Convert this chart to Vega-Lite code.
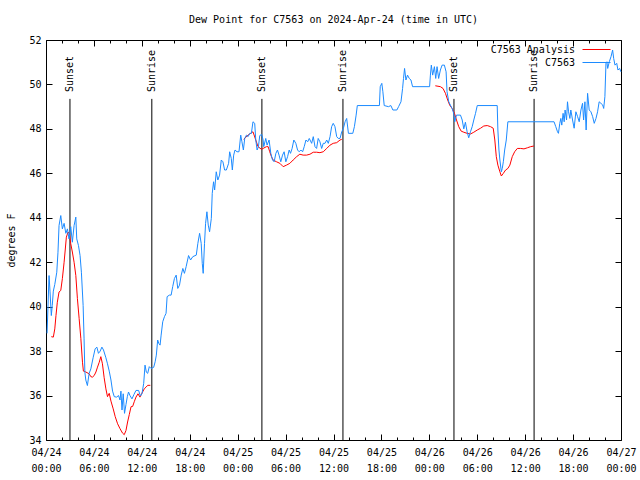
{
  "$schema": "https://vega.github.io/schema/vega-lite/v6.json",
  "width": 575,
  "height": 400,
  "autosize": {"type": "none"},
  "padding": {"left": 46, "top": 40, "right": 19, "bottom": 40},
  "background": "white",
  "title": {"text": "Dew Point for C7563 on 2024-Apr-24 (time in UTC)", "font": "DejaVu Sans Mono", "fontSize": 10, "fontWeight": "normal", "color": "black", "offset": 10, "anchor": "middle"},
  "config": {
    "font": "DejaVu Sans Mono",
    "view": {"stroke": "black", "strokeWidth": 1},
    "axis": {"domain": false, "grid": false, "tickColor": "black", "tickWidth": 1, "labelColor": "black", "labelFont": "DejaVu Sans Mono", "labelFontSize": 10, "titleFont": "DejaVu Sans Mono", "titleFontSize": 10, "titleFontWeight": "normal", "titleColor": "black"},
    "legend": {"labelFont": "DejaVu Sans Mono", "labelFontSize": 10, "labelColor": "black"}
  },
  "datasets": {
    "sun": [
      {"t": "2024-04-24T03:00:00Z", "label": "Sunset"},
      {"t": "2024-04-24T13:15:00Z", "label": "Sunrise"},
      {"t": "2024-04-25T03:02:00Z", "label": "Sunset"},
      {"t": "2024-04-25T13:11:00Z", "label": "Sunrise"},
      {"t": "2024-04-26T03:05:00Z", "label": "Sunset"},
      {"t": "2024-04-26T13:07:00Z", "label": "Sunrise"}
    ],
    "obs": [
      {"t": "2024-04-24T00:40:00Z", "v": 38.65, "s": "C7563 Analysis", "g": 1},
      {"t": "2024-04-24T00:55:00Z", "v": 38.63, "s": "C7563 Analysis", "g": 1},
      {"t": "2024-04-24T01:06:00Z", "v": 39.0, "s": "C7563 Analysis", "g": 1},
      {"t": "2024-04-24T01:15:00Z", "v": 39.6, "s": "C7563 Analysis", "g": 1},
      {"t": "2024-04-24T01:25:00Z", "v": 40.2, "s": "C7563 Analysis", "g": 1},
      {"t": "2024-04-24T01:38:00Z", "v": 40.66, "s": "C7563 Analysis", "g": 1},
      {"t": "2024-04-24T01:51:00Z", "v": 40.73, "s": "C7563 Analysis", "g": 1},
      {"t": "2024-04-24T02:03:00Z", "v": 41.26, "s": "C7563 Analysis", "g": 1},
      {"t": "2024-04-24T02:16:00Z", "v": 42.0, "s": "C7563 Analysis", "g": 1},
      {"t": "2024-04-24T02:23:00Z", "v": 42.46, "s": "C7563 Analysis", "g": 1},
      {"t": "2024-04-24T02:33:00Z", "v": 43.13, "s": "C7563 Analysis", "g": 1},
      {"t": "2024-04-24T02:46:00Z", "v": 43.36, "s": "C7563 Analysis", "g": 1},
      {"t": "2024-04-24T02:56:00Z", "v": 43.28, "s": "C7563 Analysis", "g": 1},
      {"t": "2024-04-24T03:06:00Z", "v": 42.83, "s": "C7563 Analysis", "g": 1},
      {"t": "2024-04-24T03:18:00Z", "v": 42.46, "s": "C7563 Analysis", "g": 1},
      {"t": "2024-04-24T03:31:00Z", "v": 42.0, "s": "C7563 Analysis", "g": 1},
      {"t": "2024-04-24T03:44:00Z", "v": 41.4, "s": "C7563 Analysis", "g": 1},
      {"t": "2024-04-24T03:56:00Z", "v": 40.36, "s": "C7563 Analysis", "g": 1},
      {"t": "2024-04-24T04:09:00Z", "v": 39.46, "s": "C7563 Analysis", "g": 1},
      {"t": "2024-04-24T04:22:00Z", "v": 38.56, "s": "C7563 Analysis", "g": 1},
      {"t": "2024-04-24T04:34:00Z", "v": 37.5, "s": "C7563 Analysis", "g": 1},
      {"t": "2024-04-24T04:41:00Z", "v": 37.1, "s": "C7563 Analysis", "g": 1},
      {"t": "2024-04-24T04:59:00Z", "v": 37.06, "s": "C7563 Analysis", "g": 1},
      {"t": "2024-04-24T05:24:00Z", "v": 36.98, "s": "C7563 Analysis", "g": 1},
      {"t": "2024-04-24T05:37:00Z", "v": 36.85, "s": "C7563 Analysis", "g": 1},
      {"t": "2024-04-24T05:49:00Z", "v": 36.83, "s": "C7563 Analysis", "g": 1},
      {"t": "2024-04-24T06:02:00Z", "v": 36.9, "s": "C7563 Analysis", "g": 1},
      {"t": "2024-04-24T06:15:00Z", "v": 37.06, "s": "C7563 Analysis", "g": 1},
      {"t": "2024-04-24T06:27:00Z", "v": 37.28, "s": "C7563 Analysis", "g": 1},
      {"t": "2024-04-24T06:40:00Z", "v": 37.5, "s": "C7563 Analysis", "g": 1},
      {"t": "2024-04-24T06:52:00Z", "v": 37.75, "s": "C7563 Analysis", "g": 1},
      {"t": "2024-04-24T07:04:00Z", "v": 37.43, "s": "C7563 Analysis", "g": 1},
      {"t": "2024-04-24T07:17:00Z", "v": 36.8, "s": "C7563 Analysis", "g": 1},
      {"t": "2024-04-24T07:30:00Z", "v": 36.3, "s": "C7563 Analysis", "g": 1},
      {"t": "2024-04-24T07:42:00Z", "v": 35.95, "s": "C7563 Analysis", "g": 1},
      {"t": "2024-04-24T07:55:00Z", "v": 36.1, "s": "C7563 Analysis", "g": 1},
      {"t": "2024-04-24T08:08:00Z", "v": 35.75, "s": "C7563 Analysis", "g": 1},
      {"t": "2024-04-24T08:25:00Z", "v": 35.4, "s": "C7563 Analysis", "g": 1},
      {"t": "2024-04-24T08:40:00Z", "v": 35.05, "s": "C7563 Analysis", "g": 1},
      {"t": "2024-04-24T08:58:00Z", "v": 34.73, "s": "C7563 Analysis", "g": 1},
      {"t": "2024-04-24T09:16:00Z", "v": 34.51, "s": "C7563 Analysis", "g": 1},
      {"t": "2024-04-24T09:35:00Z", "v": 34.31, "s": "C7563 Analysis", "g": 1},
      {"t": "2024-04-24T09:48:00Z", "v": 34.24, "s": "C7563 Analysis", "g": 1},
      {"t": "2024-04-24T10:01:00Z", "v": 34.43, "s": "C7563 Analysis", "g": 1},
      {"t": "2024-04-24T10:13:00Z", "v": 34.81, "s": "C7563 Analysis", "g": 1},
      {"t": "2024-04-24T10:26:00Z", "v": 35.15, "s": "C7563 Analysis", "g": 1},
      {"t": "2024-04-24T10:39:00Z", "v": 35.5, "s": "C7563 Analysis", "g": 1},
      {"t": "2024-04-24T10:51:00Z", "v": 35.51, "s": "C7563 Analysis", "g": 1},
      {"t": "2024-04-24T11:03:00Z", "v": 35.72, "s": "C7563 Analysis", "g": 1},
      {"t": "2024-04-24T11:16:00Z", "v": 35.93, "s": "C7563 Analysis", "g": 1},
      {"t": "2024-04-24T11:31:00Z", "v": 36.08, "s": "C7563 Analysis", "g": 1},
      {"t": "2024-04-24T11:46:00Z", "v": 35.93, "s": "C7563 Analysis", "g": 1},
      {"t": "2024-04-24T12:01:00Z", "v": 36.11, "s": "C7563 Analysis", "g": 1},
      {"t": "2024-04-24T12:19:00Z", "v": 36.31, "s": "C7563 Analysis", "g": 1},
      {"t": "2024-04-24T12:32:00Z", "v": 36.38, "s": "C7563 Analysis", "g": 1},
      {"t": "2024-04-24T12:44:00Z", "v": 36.46, "s": "C7563 Analysis", "g": 1},
      {"t": "2024-04-24T13:04:00Z", "v": 36.46, "s": "C7563 Analysis", "g": 1},
      {"t": "2024-04-25T00:45:00Z", "v": 47.53, "s": "C7563 Analysis", "g": 2},
      {"t": "2024-04-25T01:18:00Z", "v": 47.72, "s": "C7563 Analysis", "g": 2},
      {"t": "2024-04-25T01:55:00Z", "v": 47.87, "s": "C7563 Analysis", "g": 2},
      {"t": "2024-04-25T02:16:00Z", "v": 47.5, "s": "C7563 Analysis", "g": 2},
      {"t": "2024-04-25T02:33:00Z", "v": 47.2, "s": "C7563 Analysis", "g": 2},
      {"t": "2024-04-25T02:59:00Z", "v": 47.08, "s": "C7563 Analysis", "g": 2},
      {"t": "2024-04-25T03:11:00Z", "v": 47.12, "s": "C7563 Analysis", "g": 2},
      {"t": "2024-04-25T03:36:00Z", "v": 47.2, "s": "C7563 Analysis", "g": 2},
      {"t": "2024-04-25T03:49:00Z", "v": 47.2, "s": "C7563 Analysis", "g": 2},
      {"t": "2024-04-25T04:01:00Z", "v": 46.97, "s": "C7563 Analysis", "g": 2},
      {"t": "2024-04-25T04:14:00Z", "v": 46.75, "s": "C7563 Analysis", "g": 2},
      {"t": "2024-04-25T04:26:00Z", "v": 46.6, "s": "C7563 Analysis", "g": 2},
      {"t": "2024-04-25T04:52:00Z", "v": 46.52, "s": "C7563 Analysis", "g": 2},
      {"t": "2024-04-25T05:17:00Z", "v": 46.45, "s": "C7563 Analysis", "g": 2},
      {"t": "2024-04-25T05:42:00Z", "v": 46.3, "s": "C7563 Analysis", "g": 2},
      {"t": "2024-04-25T06:07:00Z", "v": 46.37, "s": "C7563 Analysis", "g": 2},
      {"t": "2024-04-25T06:32:00Z", "v": 46.45, "s": "C7563 Analysis", "g": 2},
      {"t": "2024-04-25T06:57:00Z", "v": 46.6, "s": "C7563 Analysis", "g": 2},
      {"t": "2024-04-25T07:23:00Z", "v": 46.75, "s": "C7563 Analysis", "g": 2},
      {"t": "2024-04-25T07:47:00Z", "v": 46.86, "s": "C7563 Analysis", "g": 2},
      {"t": "2024-04-25T08:12:00Z", "v": 46.82, "s": "C7563 Analysis", "g": 2},
      {"t": "2024-04-25T08:38:00Z", "v": 46.82, "s": "C7563 Analysis", "g": 2},
      {"t": "2024-04-25T09:03:00Z", "v": 46.86, "s": "C7563 Analysis", "g": 2},
      {"t": "2024-04-25T09:28:00Z", "v": 46.95, "s": "C7563 Analysis", "g": 2},
      {"t": "2024-04-25T09:53:00Z", "v": 46.95, "s": "C7563 Analysis", "g": 2},
      {"t": "2024-04-25T10:18:00Z", "v": 46.93, "s": "C7563 Analysis", "g": 2},
      {"t": "2024-04-25T10:43:00Z", "v": 46.97, "s": "C7563 Analysis", "g": 2},
      {"t": "2024-04-25T11:09:00Z", "v": 47.12, "s": "C7563 Analysis", "g": 2},
      {"t": "2024-04-25T11:34:00Z", "v": 47.27, "s": "C7563 Analysis", "g": 2},
      {"t": "2024-04-25T11:58:00Z", "v": 47.35, "s": "C7563 Analysis", "g": 2},
      {"t": "2024-04-25T12:24:00Z", "v": 47.38, "s": "C7563 Analysis", "g": 2},
      {"t": "2024-04-25T12:49:00Z", "v": 47.5, "s": "C7563 Analysis", "g": 2},
      {"t": "2024-04-25T13:02:00Z", "v": 47.53, "s": "C7563 Analysis", "g": 2},
      {"t": "2024-04-26T00:45:00Z", "v": 49.94, "s": "C7563 Analysis", "g": 3},
      {"t": "2024-04-26T01:23:00Z", "v": 49.9, "s": "C7563 Analysis", "g": 3},
      {"t": "2024-04-26T01:43:00Z", "v": 49.82, "s": "C7563 Analysis", "g": 3},
      {"t": "2024-04-26T02:01:00Z", "v": 49.6, "s": "C7563 Analysis", "g": 3},
      {"t": "2024-04-26T02:18:00Z", "v": 49.3, "s": "C7563 Analysis", "g": 3},
      {"t": "2024-04-26T02:33:00Z", "v": 49.07, "s": "C7563 Analysis", "g": 3},
      {"t": "2024-04-26T02:51:00Z", "v": 48.92, "s": "C7563 Analysis", "g": 3},
      {"t": "2024-04-26T03:09:00Z", "v": 48.7, "s": "C7563 Analysis", "g": 3},
      {"t": "2024-04-26T03:24:00Z", "v": 48.4, "s": "C7563 Analysis", "g": 3},
      {"t": "2024-04-26T03:41:00Z", "v": 48.1, "s": "C7563 Analysis", "g": 3},
      {"t": "2024-04-26T03:59:00Z", "v": 47.9, "s": "C7563 Analysis", "g": 3},
      {"t": "2024-04-26T04:19:00Z", "v": 47.85, "s": "C7563 Analysis", "g": 3},
      {"t": "2024-04-26T04:44:00Z", "v": 47.8, "s": "C7563 Analysis", "g": 3},
      {"t": "2024-04-26T05:09:00Z", "v": 47.77, "s": "C7563 Analysis", "g": 3},
      {"t": "2024-04-26T05:34:00Z", "v": 47.85, "s": "C7563 Analysis", "g": 3},
      {"t": "2024-04-26T06:00:00Z", "v": 47.95, "s": "C7563 Analysis", "g": 3},
      {"t": "2024-04-26T06:25:00Z", "v": 48.03, "s": "C7563 Analysis", "g": 3},
      {"t": "2024-04-26T06:49:00Z", "v": 48.13, "s": "C7563 Analysis", "g": 3},
      {"t": "2024-04-26T07:15:00Z", "v": 48.15, "s": "C7563 Analysis", "g": 3},
      {"t": "2024-04-26T07:40:00Z", "v": 48.1, "s": "C7563 Analysis", "g": 3},
      {"t": "2024-04-26T08:00:00Z", "v": 48.03, "s": "C7563 Analysis", "g": 3},
      {"t": "2024-04-26T08:12:00Z", "v": 47.5, "s": "C7563 Analysis", "g": 3},
      {"t": "2024-04-26T08:23:00Z", "v": 46.75, "s": "C7563 Analysis", "g": 3},
      {"t": "2024-04-26T08:35:00Z", "v": 46.37, "s": "C7563 Analysis", "g": 3},
      {"t": "2024-04-26T08:50:00Z", "v": 46.07, "s": "C7563 Analysis", "g": 3},
      {"t": "2024-04-26T09:01:00Z", "v": 45.88, "s": "C7563 Analysis", "g": 3},
      {"t": "2024-04-26T09:16:00Z", "v": 46.0, "s": "C7563 Analysis", "g": 3},
      {"t": "2024-04-26T09:33:00Z", "v": 46.15, "s": "C7563 Analysis", "g": 3},
      {"t": "2024-04-26T09:50:00Z", "v": 46.22, "s": "C7563 Analysis", "g": 3},
      {"t": "2024-04-26T10:05:00Z", "v": 46.37, "s": "C7563 Analysis", "g": 3},
      {"t": "2024-04-26T10:23:00Z", "v": 46.75, "s": "C7563 Analysis", "g": 3},
      {"t": "2024-04-26T10:41:00Z", "v": 46.97, "s": "C7563 Analysis", "g": 3},
      {"t": "2024-04-26T11:01:00Z", "v": 47.12, "s": "C7563 Analysis", "g": 3},
      {"t": "2024-04-26T11:26:00Z", "v": 47.12, "s": "C7563 Analysis", "g": 3},
      {"t": "2024-04-26T11:51:00Z", "v": 47.1, "s": "C7563 Analysis", "g": 3},
      {"t": "2024-04-26T12:17:00Z", "v": 47.15, "s": "C7563 Analysis", "g": 3},
      {"t": "2024-04-26T12:41:00Z", "v": 47.2, "s": "C7563 Analysis", "g": 3},
      {"t": "2024-04-26T13:06:00Z", "v": 47.23, "s": "C7563 Analysis", "g": 3},
      {"t": "2024-04-24T00:08:00Z", "v": 38.8, "s": "C7563", "g": 0},
      {"t": "2024-04-24T00:23:00Z", "v": 41.4, "s": "C7563", "g": 0},
      {"t": "2024-04-24T00:30:00Z", "v": 40.7, "s": "C7563", "g": 0},
      {"t": "2024-04-24T00:40:00Z", "v": 39.6, "s": "C7563", "g": 0},
      {"t": "2024-04-24T00:47:00Z", "v": 40.05, "s": "C7563", "g": 0},
      {"t": "2024-04-24T00:55:00Z", "v": 40.7, "s": "C7563", "g": 0},
      {"t": "2024-04-24T01:06:00Z", "v": 41.0, "s": "C7563", "g": 0},
      {"t": "2024-04-24T01:21:00Z", "v": 41.55, "s": "C7563", "g": 0},
      {"t": "2024-04-24T01:30:00Z", "v": 42.45, "s": "C7563", "g": 0},
      {"t": "2024-04-24T01:38:00Z", "v": 43.65, "s": "C7563", "g": 0},
      {"t": "2024-04-24T01:51:00Z", "v": 44.1, "s": "C7563", "g": 0},
      {"t": "2024-04-24T02:03:00Z", "v": 43.5, "s": "C7563", "g": 0},
      {"t": "2024-04-24T02:16:00Z", "v": 43.75, "s": "C7563", "g": 0},
      {"t": "2024-04-24T02:29:00Z", "v": 43.3, "s": "C7563", "g": 0},
      {"t": "2024-04-24T02:41:00Z", "v": 43.5, "s": "C7563", "g": 0},
      {"t": "2024-04-24T02:53:00Z", "v": 43.05, "s": "C7563", "g": 0},
      {"t": "2024-04-24T03:06:00Z", "v": 43.6, "s": "C7563", "g": 0},
      {"t": "2024-04-24T03:18:00Z", "v": 42.9, "s": "C7563", "g": 0},
      {"t": "2024-04-24T03:31:00Z", "v": 43.65, "s": "C7563", "g": 0},
      {"t": "2024-04-24T03:44:00Z", "v": 44.03, "s": "C7563", "g": 0},
      {"t": "2024-04-24T03:51:00Z", "v": 43.05, "s": "C7563", "g": 0},
      {"t": "2024-04-24T04:04:00Z", "v": 42.75, "s": "C7563", "g": 0},
      {"t": "2024-04-24T04:16:00Z", "v": 42.3, "s": "C7563", "g": 0},
      {"t": "2024-04-24T04:26:00Z", "v": 41.55, "s": "C7563", "g": 0},
      {"t": "2024-04-24T04:39:00Z", "v": 40.05, "s": "C7563", "g": 0},
      {"t": "2024-04-24T04:46:00Z", "v": 38.55, "s": "C7563", "g": 0},
      {"t": "2024-04-24T04:52:00Z", "v": 37.05, "s": "C7563", "g": 0},
      {"t": "2024-04-24T04:59:00Z", "v": 36.7, "s": "C7563", "g": 0},
      {"t": "2024-04-24T05:11:00Z", "v": 36.45, "s": "C7563", "g": 0},
      {"t": "2024-04-24T05:24:00Z", "v": 37.0, "s": "C7563", "g": 0},
      {"t": "2024-04-24T05:37:00Z", "v": 37.2, "s": "C7563", "g": 0},
      {"t": "2024-04-24T05:54:00Z", "v": 37.7, "s": "C7563", "g": 0},
      {"t": "2024-04-24T06:09:00Z", "v": 38.1, "s": "C7563", "g": 0},
      {"t": "2024-04-24T06:22:00Z", "v": 38.18, "s": "C7563", "g": 0},
      {"t": "2024-04-24T06:34:00Z", "v": 37.9, "s": "C7563", "g": 0},
      {"t": "2024-04-24T06:47:00Z", "v": 38.0, "s": "C7563", "g": 0},
      {"t": "2024-04-24T07:00:00Z", "v": 38.18, "s": "C7563", "g": 0},
      {"t": "2024-04-24T07:12:00Z", "v": 38.05, "s": "C7563", "g": 0},
      {"t": "2024-04-24T07:30:00Z", "v": 37.7, "s": "C7563", "g": 0},
      {"t": "2024-04-24T07:42:00Z", "v": 37.43, "s": "C7563", "g": 0},
      {"t": "2024-04-24T07:55:00Z", "v": 37.1, "s": "C7563", "g": 0},
      {"t": "2024-04-24T08:08:00Z", "v": 36.7, "s": "C7563", "g": 0},
      {"t": "2024-04-24T08:20:00Z", "v": 36.2, "s": "C7563", "g": 0},
      {"t": "2024-04-24T08:33:00Z", "v": 35.95, "s": "C7563", "g": 0},
      {"t": "2024-04-24T08:50:00Z", "v": 35.93, "s": "C7563", "g": 0},
      {"t": "2024-04-24T09:05:00Z", "v": 36.0, "s": "C7563", "g": 0},
      {"t": "2024-04-24T09:16:00Z", "v": 35.8, "s": "C7563", "g": 0},
      {"t": "2024-04-24T09:23:00Z", "v": 36.2, "s": "C7563", "g": 0},
      {"t": "2024-04-24T09:31:00Z", "v": 35.35, "s": "C7563", "g": 0},
      {"t": "2024-04-24T09:40:00Z", "v": 36.08, "s": "C7563", "g": 0},
      {"t": "2024-04-24T09:50:00Z", "v": 35.2, "s": "C7563", "g": 0},
      {"t": "2024-04-24T10:01:00Z", "v": 35.6, "s": "C7563", "g": 0},
      {"t": "2024-04-24T10:11:00Z", "v": 35.95, "s": "C7563", "g": 0},
      {"t": "2024-04-24T10:20:00Z", "v": 36.16, "s": "C7563", "g": 0},
      {"t": "2024-04-24T10:31:00Z", "v": 36.0, "s": "C7563", "g": 0},
      {"t": "2024-04-24T10:46:00Z", "v": 35.85, "s": "C7563", "g": 0},
      {"t": "2024-04-24T11:01:00Z", "v": 36.05, "s": "C7563", "g": 0},
      {"t": "2024-04-24T11:16:00Z", "v": 36.23, "s": "C7563", "g": 0},
      {"t": "2024-04-24T11:36:00Z", "v": 36.23, "s": "C7563", "g": 0},
      {"t": "2024-04-24T11:49:00Z", "v": 35.98, "s": "C7563", "g": 0},
      {"t": "2024-04-24T12:01:00Z", "v": 36.08, "s": "C7563", "g": 0},
      {"t": "2024-04-24T12:14:00Z", "v": 36.55, "s": "C7563", "g": 0},
      {"t": "2024-04-24T12:24:00Z", "v": 37.37, "s": "C7563", "g": 0},
      {"t": "2024-04-24T12:34:00Z", "v": 37.05, "s": "C7563", "g": 0},
      {"t": "2024-04-24T12:44:00Z", "v": 37.0, "s": "C7563", "g": 0},
      {"t": "2024-04-24T12:56:00Z", "v": 37.3, "s": "C7563", "g": 0},
      {"t": "2024-04-24T13:09:00Z", "v": 37.22, "s": "C7563", "g": 0},
      {"t": "2024-04-24T13:29:00Z", "v": 37.27, "s": "C7563", "g": 0},
      {"t": "2024-04-24T13:40:00Z", "v": 37.52, "s": "C7563", "g": 0},
      {"t": "2024-04-24T13:49:00Z", "v": 37.82, "s": "C7563", "g": 0},
      {"t": "2024-04-24T13:59:00Z", "v": 38.5, "s": "C7563", "g": 0},
      {"t": "2024-04-24T14:07:00Z", "v": 38.35, "s": "C7563", "g": 0},
      {"t": "2024-04-24T14:17:00Z", "v": 38.27, "s": "C7563", "g": 0},
      {"t": "2024-04-24T14:25:00Z", "v": 38.72, "s": "C7563", "g": 0},
      {"t": "2024-04-24T14:37:00Z", "v": 39.32, "s": "C7563", "g": 0},
      {"t": "2024-04-24T14:50:00Z", "v": 39.55, "s": "C7563", "g": 0},
      {"t": "2024-04-24T15:02:00Z", "v": 39.7, "s": "C7563", "g": 0},
      {"t": "2024-04-24T15:10:00Z", "v": 40.45, "s": "C7563", "g": 0},
      {"t": "2024-04-24T15:27:00Z", "v": 40.52, "s": "C7563", "g": 0},
      {"t": "2024-04-24T15:40:00Z", "v": 40.52, "s": "C7563", "g": 0},
      {"t": "2024-04-24T15:52:00Z", "v": 40.9, "s": "C7563", "g": 0},
      {"t": "2024-04-24T16:05:00Z", "v": 41.27, "s": "C7563", "g": 0},
      {"t": "2024-04-24T16:18:00Z", "v": 41.42, "s": "C7563", "g": 0},
      {"t": "2024-04-24T16:30:00Z", "v": 40.82, "s": "C7563", "g": 0},
      {"t": "2024-04-24T16:43:00Z", "v": 40.97, "s": "C7563", "g": 0},
      {"t": "2024-04-24T16:56:00Z", "v": 41.42, "s": "C7563", "g": 0},
      {"t": "2024-04-24T17:08:00Z", "v": 41.72, "s": "C7563", "g": 0},
      {"t": "2024-04-24T17:20:00Z", "v": 41.5, "s": "C7563", "g": 0},
      {"t": "2024-04-24T17:33:00Z", "v": 41.8, "s": "C7563", "g": 0},
      {"t": "2024-04-24T17:51:00Z", "v": 42.3, "s": "C7563", "g": 0},
      {"t": "2024-04-24T18:06:00Z", "v": 42.1, "s": "C7563", "g": 0},
      {"t": "2024-04-24T18:23:00Z", "v": 42.25, "s": "C7563", "g": 0},
      {"t": "2024-04-24T18:49:00Z", "v": 42.32, "s": "C7563", "g": 0},
      {"t": "2024-04-24T19:01:00Z", "v": 42.85, "s": "C7563", "g": 0},
      {"t": "2024-04-24T19:14:00Z", "v": 43.3, "s": "C7563", "g": 0},
      {"t": "2024-04-24T19:26:00Z", "v": 42.85, "s": "C7563", "g": 0},
      {"t": "2024-04-24T19:34:00Z", "v": 41.95, "s": "C7563", "g": 0},
      {"t": "2024-04-24T19:41:00Z", "v": 41.5, "s": "C7563", "g": 0},
      {"t": "2024-04-24T19:51:00Z", "v": 42.85, "s": "C7563", "g": 0},
      {"t": "2024-04-24T19:59:00Z", "v": 43.75, "s": "C7563", "g": 0},
      {"t": "2024-04-24T20:09:00Z", "v": 44.27, "s": "C7563", "g": 0},
      {"t": "2024-04-24T20:19:00Z", "v": 43.67, "s": "C7563", "g": 0},
      {"t": "2024-04-24T20:29:00Z", "v": 43.37, "s": "C7563", "g": 0},
      {"t": "2024-04-24T20:42:00Z", "v": 43.97, "s": "C7563", "g": 0},
      {"t": "2024-04-24T20:49:00Z", "v": 45.1, "s": "C7563", "g": 0},
      {"t": "2024-04-24T20:59:00Z", "v": 45.62, "s": "C7563", "g": 0},
      {"t": "2024-04-24T21:07:00Z", "v": 45.25, "s": "C7563", "g": 0},
      {"t": "2024-04-24T21:19:00Z", "v": 46.07, "s": "C7563", "g": 0},
      {"t": "2024-04-24T21:31:00Z", "v": 45.7, "s": "C7563", "g": 0},
      {"t": "2024-04-24T21:44:00Z", "v": 45.92, "s": "C7563", "g": 0},
      {"t": "2024-04-24T21:57:00Z", "v": 46.6, "s": "C7563", "g": 0},
      {"t": "2024-04-24T22:09:00Z", "v": 46.52, "s": "C7563", "g": 0},
      {"t": "2024-04-24T22:22:00Z", "v": 46.15, "s": "C7563", "g": 0},
      {"t": "2024-04-24T22:35:00Z", "v": 46.15, "s": "C7563", "g": 0},
      {"t": "2024-04-24T22:52:00Z", "v": 46.45, "s": "C7563", "g": 0},
      {"t": "2024-04-24T23:00:00Z", "v": 46.97, "s": "C7563", "g": 0},
      {"t": "2024-04-24T23:12:00Z", "v": 46.67, "s": "C7563", "g": 0},
      {"t": "2024-04-24T23:20:00Z", "v": 46.15, "s": "C7563", "g": 0},
      {"t": "2024-04-24T23:30:00Z", "v": 46.82, "s": "C7563", "g": 0},
      {"t": "2024-04-24T23:40:00Z", "v": 47.05, "s": "C7563", "g": 0},
      {"t": "2024-04-24T23:55:00Z", "v": 46.97, "s": "C7563", "g": 0},
      {"t": "2024-04-25T00:10:00Z", "v": 46.97, "s": "C7563", "g": 0},
      {"t": "2024-04-25T00:23:00Z", "v": 47.72, "s": "C7563", "g": 0},
      {"t": "2024-04-25T00:32:00Z", "v": 47.42, "s": "C7563", "g": 0},
      {"t": "2024-04-25T00:43:00Z", "v": 47.05, "s": "C7563", "g": 0},
      {"t": "2024-04-25T00:53:00Z", "v": 47.57, "s": "C7563", "g": 0},
      {"t": "2024-04-25T01:06:00Z", "v": 47.72, "s": "C7563", "g": 0},
      {"t": "2024-04-25T01:18:00Z", "v": 47.65, "s": "C7563", "g": 0},
      {"t": "2024-04-25T01:31:00Z", "v": 47.8, "s": "C7563", "g": 0},
      {"t": "2024-04-25T01:43:00Z", "v": 47.8, "s": "C7563", "g": 0},
      {"t": "2024-04-25T01:55:00Z", "v": 48.32, "s": "C7563", "g": 0},
      {"t": "2024-04-25T02:08:00Z", "v": 48.25, "s": "C7563", "g": 0},
      {"t": "2024-04-25T02:16:00Z", "v": 47.5, "s": "C7563", "g": 0},
      {"t": "2024-04-25T02:26:00Z", "v": 47.05, "s": "C7563", "g": 0},
      {"t": "2024-04-25T02:36:00Z", "v": 47.2, "s": "C7563", "g": 0},
      {"t": "2024-04-25T02:46:00Z", "v": 47.7, "s": "C7563", "g": 0},
      {"t": "2024-04-25T03:01:00Z", "v": 47.75, "s": "C7563", "g": 0},
      {"t": "2024-04-25T03:11:00Z", "v": 47.5, "s": "C7563", "g": 0},
      {"t": "2024-04-25T03:16:00Z", "v": 47.2, "s": "C7563", "g": 0},
      {"t": "2024-04-25T03:31:00Z", "v": 47.57, "s": "C7563", "g": 0},
      {"t": "2024-04-25T03:41:00Z", "v": 47.27, "s": "C7563", "g": 0},
      {"t": "2024-04-25T03:56:00Z", "v": 47.5, "s": "C7563", "g": 0},
      {"t": "2024-04-25T04:09:00Z", "v": 46.9, "s": "C7563", "g": 0},
      {"t": "2024-04-25T04:22:00Z", "v": 46.6, "s": "C7563", "g": 0},
      {"t": "2024-04-25T04:34:00Z", "v": 46.52, "s": "C7563", "g": 0},
      {"t": "2024-04-25T04:47:00Z", "v": 46.9, "s": "C7563", "g": 0},
      {"t": "2024-04-25T04:59:00Z", "v": 47.05, "s": "C7563", "g": 0},
      {"t": "2024-04-25T05:11:00Z", "v": 46.82, "s": "C7563", "g": 0},
      {"t": "2024-04-25T05:24:00Z", "v": 46.52, "s": "C7563", "g": 0},
      {"t": "2024-04-25T05:37:00Z", "v": 46.82, "s": "C7563", "g": 0},
      {"t": "2024-04-25T05:49:00Z", "v": 46.97, "s": "C7563", "g": 0},
      {"t": "2024-04-25T06:02:00Z", "v": 46.52, "s": "C7563", "g": 0},
      {"t": "2024-04-25T06:15:00Z", "v": 46.75, "s": "C7563", "g": 0},
      {"t": "2024-04-25T06:27:00Z", "v": 47.05, "s": "C7563", "g": 0},
      {"t": "2024-04-25T06:37:00Z", "v": 46.9, "s": "C7563", "g": 0},
      {"t": "2024-04-25T06:49:00Z", "v": 47.12, "s": "C7563", "g": 0},
      {"t": "2024-04-25T07:02:00Z", "v": 47.5, "s": "C7563", "g": 0},
      {"t": "2024-04-25T07:17:00Z", "v": 47.35, "s": "C7563", "g": 0},
      {"t": "2024-04-25T07:30:00Z", "v": 47.05, "s": "C7563", "g": 0},
      {"t": "2024-04-25T07:42:00Z", "v": 46.97, "s": "C7563", "g": 0},
      {"t": "2024-04-25T07:55:00Z", "v": 47.05, "s": "C7563", "g": 0},
      {"t": "2024-04-25T08:08:00Z", "v": 46.97, "s": "C7563", "g": 0},
      {"t": "2024-04-25T08:20:00Z", "v": 47.2, "s": "C7563", "g": 0},
      {"t": "2024-04-25T08:33:00Z", "v": 47.5, "s": "C7563", "g": 0},
      {"t": "2024-04-25T08:46:00Z", "v": 47.42, "s": "C7563", "g": 0},
      {"t": "2024-04-25T08:58:00Z", "v": 47.57, "s": "C7563", "g": 0},
      {"t": "2024-04-25T09:16:00Z", "v": 47.35, "s": "C7563", "g": 0},
      {"t": "2024-04-25T09:28:00Z", "v": 47.65, "s": "C7563", "g": 0},
      {"t": "2024-04-25T09:41:00Z", "v": 47.2, "s": "C7563", "g": 0},
      {"t": "2024-04-25T09:53:00Z", "v": 47.12, "s": "C7563", "g": 0},
      {"t": "2024-04-25T10:05:00Z", "v": 47.57, "s": "C7563", "g": 0},
      {"t": "2024-04-25T10:18:00Z", "v": 47.42, "s": "C7563", "g": 0},
      {"t": "2024-04-25T10:31:00Z", "v": 47.12, "s": "C7563", "g": 0},
      {"t": "2024-04-25T10:43:00Z", "v": 47.35, "s": "C7563", "g": 0},
      {"t": "2024-04-25T10:56:00Z", "v": 47.35, "s": "C7563", "g": 0},
      {"t": "2024-04-25T11:09:00Z", "v": 47.5, "s": "C7563", "g": 0},
      {"t": "2024-04-25T11:21:00Z", "v": 47.35, "s": "C7563", "g": 0},
      {"t": "2024-04-25T11:34:00Z", "v": 47.65, "s": "C7563", "g": 0},
      {"t": "2024-04-25T11:46:00Z", "v": 48.1, "s": "C7563", "g": 0},
      {"t": "2024-04-25T11:58:00Z", "v": 48.25, "s": "C7563", "g": 0},
      {"t": "2024-04-25T12:11:00Z", "v": 48.1, "s": "C7563", "g": 0},
      {"t": "2024-04-25T12:24:00Z", "v": 47.65, "s": "C7563", "g": 0},
      {"t": "2024-04-25T12:36:00Z", "v": 47.57, "s": "C7563", "g": 0},
      {"t": "2024-04-25T12:49:00Z", "v": 47.57, "s": "C7563", "g": 0},
      {"t": "2024-04-25T13:02:00Z", "v": 47.87, "s": "C7563", "g": 0},
      {"t": "2024-04-25T13:14:00Z", "v": 48.02, "s": "C7563", "g": 0},
      {"t": "2024-04-25T13:27:00Z", "v": 48.32, "s": "C7563", "g": 0},
      {"t": "2024-04-25T13:39:00Z", "v": 48.47, "s": "C7563", "g": 0},
      {"t": "2024-04-25T13:52:00Z", "v": 47.8, "s": "C7563", "g": 0},
      {"t": "2024-04-25T14:04:00Z", "v": 47.8, "s": "C7563", "g": 0},
      {"t": "2024-04-25T14:25:00Z", "v": 47.8, "s": "C7563", "g": 0},
      {"t": "2024-04-25T14:37:00Z", "v": 48.1, "s": "C7563", "g": 0},
      {"t": "2024-04-25T14:50:00Z", "v": 48.62, "s": "C7563", "g": 0},
      {"t": "2024-04-25T14:59:00Z", "v": 49.05, "s": "C7563", "g": 0},
      {"t": "2024-04-25T17:45:00Z", "v": 49.05, "s": "C7563", "g": 0},
      {"t": "2024-04-25T17:51:00Z", "v": 49.9, "s": "C7563", "g": 0},
      {"t": "2024-04-25T18:03:00Z", "v": 50.05, "s": "C7563", "g": 0},
      {"t": "2024-04-25T18:11:00Z", "v": 49.67, "s": "C7563", "g": 0},
      {"t": "2024-04-25T18:21:00Z", "v": 49.05, "s": "C7563", "g": 0},
      {"t": "2024-04-25T18:53:00Z", "v": 49.0, "s": "C7563", "g": 0},
      {"t": "2024-04-25T19:11:00Z", "v": 49.05, "s": "C7563", "g": 0},
      {"t": "2024-04-25T19:26:00Z", "v": 48.85, "s": "C7563", "g": 0},
      {"t": "2024-04-25T19:56:00Z", "v": 48.85, "s": "C7563", "g": 0},
      {"t": "2024-04-25T20:09:00Z", "v": 49.0, "s": "C7563", "g": 0},
      {"t": "2024-04-25T20:27:00Z", "v": 49.22, "s": "C7563", "g": 0},
      {"t": "2024-04-25T20:39:00Z", "v": 49.82, "s": "C7563", "g": 0},
      {"t": "2024-04-25T20:46:00Z", "v": 50.27, "s": "C7563", "g": 0},
      {"t": "2024-04-25T20:54:00Z", "v": 50.72, "s": "C7563", "g": 0},
      {"t": "2024-04-25T21:04:00Z", "v": 50.2, "s": "C7563", "g": 0},
      {"t": "2024-04-25T21:16:00Z", "v": 50.42, "s": "C7563", "g": 0},
      {"t": "2024-04-25T21:29:00Z", "v": 50.27, "s": "C7563", "g": 0},
      {"t": "2024-04-25T21:42:00Z", "v": 50.2, "s": "C7563", "g": 0},
      {"t": "2024-04-25T21:54:00Z", "v": 49.9, "s": "C7563", "g": 0},
      {"t": "2024-04-26T00:02:00Z", "v": 49.9, "s": "C7563", "g": 0},
      {"t": "2024-04-26T00:08:00Z", "v": 50.42, "s": "C7563", "g": 0},
      {"t": "2024-04-26T00:15:00Z", "v": 50.87, "s": "C7563", "g": 0},
      {"t": "2024-04-26T00:25:00Z", "v": 50.42, "s": "C7563", "g": 0},
      {"t": "2024-04-26T00:38:00Z", "v": 50.8, "s": "C7563", "g": 0},
      {"t": "2024-04-26T00:48:00Z", "v": 50.27, "s": "C7563", "g": 0},
      {"t": "2024-04-26T00:58:00Z", "v": 50.8, "s": "C7563", "g": 0},
      {"t": "2024-04-26T01:10:00Z", "v": 50.27, "s": "C7563", "g": 0},
      {"t": "2024-04-26T01:23:00Z", "v": 50.65, "s": "C7563", "g": 0},
      {"t": "2024-04-26T01:36:00Z", "v": 50.87, "s": "C7563", "g": 0},
      {"t": "2024-04-26T01:53:00Z", "v": 50.87, "s": "C7563", "g": 0},
      {"t": "2024-04-26T02:06:00Z", "v": 50.57, "s": "C7563", "g": 0},
      {"t": "2024-04-26T02:13:00Z", "v": 49.67, "s": "C7563", "g": 0},
      {"t": "2024-04-26T02:26:00Z", "v": 49.22, "s": "C7563", "g": 0},
      {"t": "2024-04-26T02:38:00Z", "v": 49.07, "s": "C7563", "g": 0},
      {"t": "2024-04-26T02:51:00Z", "v": 48.92, "s": "C7563", "g": 0},
      {"t": "2024-04-26T03:03:00Z", "v": 48.7, "s": "C7563", "g": 0},
      {"t": "2024-04-26T03:11:00Z", "v": 48.32, "s": "C7563", "g": 0},
      {"t": "2024-04-26T03:24:00Z", "v": 48.62, "s": "C7563", "g": 0},
      {"t": "2024-04-26T03:54:00Z", "v": 48.62, "s": "C7563", "g": 0},
      {"t": "2024-04-26T04:07:00Z", "v": 48.4, "s": "C7563", "g": 0},
      {"t": "2024-04-26T04:19:00Z", "v": 48.0, "s": "C7563", "g": 0},
      {"t": "2024-04-26T04:31:00Z", "v": 48.3, "s": "C7563", "g": 0},
      {"t": "2024-04-26T04:44:00Z", "v": 47.87, "s": "C7563", "g": 0},
      {"t": "2024-04-26T04:56:00Z", "v": 47.6, "s": "C7563", "g": 0},
      {"t": "2024-04-26T05:09:00Z", "v": 47.87, "s": "C7563", "g": 0},
      {"t": "2024-04-26T05:22:00Z", "v": 48.1, "s": "C7563", "g": 0},
      {"t": "2024-04-26T05:34:00Z", "v": 48.4, "s": "C7563", "g": 0},
      {"t": "2024-04-26T05:47:00Z", "v": 48.7, "s": "C7563", "g": 0},
      {"t": "2024-04-26T06:00:00Z", "v": 49.05, "s": "C7563", "g": 0},
      {"t": "2024-04-26T08:30:00Z", "v": 49.05, "s": "C7563", "g": 0},
      {"t": "2024-04-26T08:35:00Z", "v": 47.95, "s": "C7563", "g": 0},
      {"t": "2024-04-26T08:43:00Z", "v": 47.05, "s": "C7563", "g": 0},
      {"t": "2024-04-26T08:50:00Z", "v": 46.6, "s": "C7563", "g": 0},
      {"t": "2024-04-26T09:01:00Z", "v": 46.07, "s": "C7563", "g": 0},
      {"t": "2024-04-26T09:08:00Z", "v": 46.22, "s": "C7563", "g": 0},
      {"t": "2024-04-26T09:16:00Z", "v": 46.52, "s": "C7563", "g": 0},
      {"t": "2024-04-26T09:26:00Z", "v": 47.05, "s": "C7563", "g": 0},
      {"t": "2024-04-26T09:38:00Z", "v": 47.5, "s": "C7563", "g": 0},
      {"t": "2024-04-26T09:50:00Z", "v": 48.32, "s": "C7563", "g": 0},
      {"t": "2024-04-26T15:37:00Z", "v": 48.32, "s": "C7563", "g": 0},
      {"t": "2024-04-26T15:50:00Z", "v": 48.1, "s": "C7563", "g": 0},
      {"t": "2024-04-26T16:03:00Z", "v": 47.87, "s": "C7563", "g": 0},
      {"t": "2024-04-26T16:10:00Z", "v": 47.8, "s": "C7563", "g": 0},
      {"t": "2024-04-26T16:20:00Z", "v": 48.25, "s": "C7563", "g": 0},
      {"t": "2024-04-26T16:28:00Z", "v": 48.47, "s": "C7563", "g": 0},
      {"t": "2024-04-26T16:35:00Z", "v": 48.17, "s": "C7563", "g": 0},
      {"t": "2024-04-26T16:45:00Z", "v": 48.7, "s": "C7563", "g": 0},
      {"t": "2024-04-26T16:53:00Z", "v": 48.32, "s": "C7563", "g": 0},
      {"t": "2024-04-26T17:00:00Z", "v": 48.85, "s": "C7563", "g": 0},
      {"t": "2024-04-26T17:11:00Z", "v": 48.4, "s": "C7563", "g": 0},
      {"t": "2024-04-26T17:18:00Z", "v": 49.22, "s": "C7563", "g": 0},
      {"t": "2024-04-26T17:26:00Z", "v": 48.77, "s": "C7563", "g": 0},
      {"t": "2024-04-26T17:36:00Z", "v": 48.47, "s": "C7563", "g": 0},
      {"t": "2024-04-26T17:43:00Z", "v": 48.85, "s": "C7563", "g": 0},
      {"t": "2024-04-26T17:56:00Z", "v": 48.4, "s": "C7563", "g": 0},
      {"t": "2024-04-26T18:08:00Z", "v": 48.03, "s": "C7563", "g": 0},
      {"t": "2024-04-26T18:21:00Z", "v": 48.77, "s": "C7563", "g": 0},
      {"t": "2024-04-26T18:34:00Z", "v": 48.55, "s": "C7563", "g": 0},
      {"t": "2024-04-26T18:46:00Z", "v": 48.32, "s": "C7563", "g": 0},
      {"t": "2024-04-26T18:59:00Z", "v": 48.85, "s": "C7563", "g": 0},
      {"t": "2024-04-26T19:11:00Z", "v": 49.15, "s": "C7563", "g": 0},
      {"t": "2024-04-26T19:19:00Z", "v": 48.4, "s": "C7563", "g": 0},
      {"t": "2024-04-26T19:29:00Z", "v": 49.22, "s": "C7563", "g": 0},
      {"t": "2024-04-26T19:38:00Z", "v": 47.95, "s": "C7563", "g": 0},
      {"t": "2024-04-26T19:49:00Z", "v": 49.6, "s": "C7563", "g": 0},
      {"t": "2024-04-26T20:01:00Z", "v": 48.85, "s": "C7563", "g": 0},
      {"t": "2024-04-26T20:14:00Z", "v": 48.77, "s": "C7563", "g": 0},
      {"t": "2024-04-26T20:27:00Z", "v": 48.55, "s": "C7563", "g": 0},
      {"t": "2024-04-26T20:39:00Z", "v": 48.25, "s": "C7563", "g": 0},
      {"t": "2024-04-26T20:52:00Z", "v": 48.47, "s": "C7563", "g": 0},
      {"t": "2024-04-26T21:04:00Z", "v": 48.77, "s": "C7563", "g": 0},
      {"t": "2024-04-26T21:16:00Z", "v": 49.22, "s": "C7563", "g": 0},
      {"t": "2024-04-26T21:29:00Z", "v": 49.15, "s": "C7563", "g": 0},
      {"t": "2024-04-26T21:42:00Z", "v": 49.08, "s": "C7563", "g": 0},
      {"t": "2024-04-26T21:50:00Z", "v": 48.92, "s": "C7563", "g": 0},
      {"t": "2024-04-26T21:59:00Z", "v": 49.45, "s": "C7563", "g": 0},
      {"t": "2024-04-26T22:07:00Z", "v": 50.95, "s": "C7563", "g": 0},
      {"t": "2024-04-26T22:14:00Z", "v": 51.02, "s": "C7563", "g": 0},
      {"t": "2024-04-26T22:20:00Z", "v": 50.72, "s": "C7563", "g": 0},
      {"t": "2024-04-26T22:32:00Z", "v": 51.02, "s": "C7563", "g": 0},
      {"t": "2024-04-26T22:45:00Z", "v": 51.25, "s": "C7563", "g": 0},
      {"t": "2024-04-26T22:57:00Z", "v": 51.55, "s": "C7563", "g": 0},
      {"t": "2024-04-26T23:05:00Z", "v": 51.17, "s": "C7563", "g": 0},
      {"t": "2024-04-26T23:15:00Z", "v": 50.87, "s": "C7563", "g": 0},
      {"t": "2024-04-26T23:28:00Z", "v": 50.95, "s": "C7563", "g": 0},
      {"t": "2024-04-26T23:37:00Z", "v": 50.65, "s": "C7563", "g": 0},
      {"t": "2024-04-26T23:50:00Z", "v": 50.72, "s": "C7563", "g": 0},
      {"t": "2024-04-26T23:59:00Z", "v": 50.57, "s": "C7563", "g": 0}
    ]
  },
  "layer": [
    {
      "data": {"name": "sun"},
      "mark": {"type": "rule", "color": "black", "strokeWidth": 1},
      "encoding": {
        "x": {"field": "t", "type": "temporal",
          "scale": {"type": "utc", "domain": [{"year": 2024, "month": 4, "date": 24, "utc": true}, {"year": 2024, "month": 4, "date": 27, "utc": true}]},
          "axis": {"orient": "bottom", "title": null, "tickSize": -6, "labelExpr": "[utcFormat(datum.value, '%m/%d'), utcFormat(datum.value, '%H:%M')]", "labelLineHeight": 16, "labelPadding": 13, "labelAlign": "center", "labelBaseline": "top", "labelOverlap": false, "labelFlush": false,
            "values": [
              {"year": 2024, "month": 4, "date": 24, "hours": 0, "utc": true},
              {"year": 2024, "month": 4, "date": 24, "hours": 6, "utc": true},
              {"year": 2024, "month": 4, "date": 24, "hours": 12, "utc": true},
              {"year": 2024, "month": 4, "date": 24, "hours": 18, "utc": true},
              {"year": 2024, "month": 4, "date": 25, "hours": 0, "utc": true},
              {"year": 2024, "month": 4, "date": 25, "hours": 6, "utc": true},
              {"year": 2024, "month": 4, "date": 25, "hours": 12, "utc": true},
              {"year": 2024, "month": 4, "date": 25, "hours": 18, "utc": true},
              {"year": 2024, "month": 4, "date": 26, "hours": 0, "utc": true},
              {"year": 2024, "month": 4, "date": 26, "hours": 6, "utc": true},
              {"year": 2024, "month": 4, "date": 26, "hours": 12, "utc": true},
              {"year": 2024, "month": 4, "date": 26, "hours": 18, "utc": true},
              {"year": 2024, "month": 4, "date": 27, "hours": 0, "utc": true}
            ]}},
        "y": {"datum": 49.35, "type": "quantitative",
          "scale": {"domain": [34, 52], "nice": false, "zero": false},
          "axis": {"orient": "left", "title": "degrees F", "values": [34, 36, 38, 40, 42, 44, 46, 48, 50, 52], "tickSize": -6, "labelPadding": 11, "titlePadding": 12}},
        "y2": {"datum": 34}
      }
    },
    {
      "data": {"name": "sun"},
      "mark": {"type": "text", "angle": 270, "align": "left", "baseline": "middle", "font": "DejaVu Sans Mono", "fontSize": 10, "color": "black"},
      "encoding": {
        "x": {"field": "t", "type": "temporal",
          "scale": {"type": "utc", "domain": [{"year": 2024, "month": 4, "date": 24, "utc": true}, {"year": 2024, "month": 4, "date": 27, "utc": true}]},
          "axis": {"orient": "top", "title": null, "tickSize": -6, "labels": false,
            "values": [
              {"year": 2024, "month": 4, "date": 24, "hours": 0, "utc": true},
              {"year": 2024, "month": 4, "date": 24, "hours": 6, "utc": true},
              {"year": 2024, "month": 4, "date": 24, "hours": 12, "utc": true},
              {"year": 2024, "month": 4, "date": 24, "hours": 18, "utc": true},
              {"year": 2024, "month": 4, "date": 25, "hours": 0, "utc": true},
              {"year": 2024, "month": 4, "date": 25, "hours": 6, "utc": true},
              {"year": 2024, "month": 4, "date": 25, "hours": 12, "utc": true},
              {"year": 2024, "month": 4, "date": 25, "hours": 18, "utc": true},
              {"year": 2024, "month": 4, "date": 26, "hours": 0, "utc": true},
              {"year": 2024, "month": 4, "date": 26, "hours": 6, "utc": true},
              {"year": 2024, "month": 4, "date": 26, "hours": 12, "utc": true},
              {"year": 2024, "month": 4, "date": 26, "hours": 18, "utc": true},
              {"year": 2024, "month": 4, "date": 27, "hours": 0, "utc": true}
            ]}},
        "y": {"datum": 49.66, "type": "quantitative",
          "scale": {"domain": [34, 52], "nice": false, "zero": false},
          "axis": {"orient": "right", "title": null, "values": [34, 36, 38, 40, 42, 44, 46, 48, 50, 52], "tickSize": -6, "labels": false}},
        "text": {"field": "label"}
      }
    },
    {
      "data": {"name": "obs"},
      "transform": [{"filter": "datum.s == 'C7563 Analysis'"}],
      "mark": {"type": "line", "strokeWidth": 1},
      "encoding": {
        "x": {"field": "t", "type": "temporal",
          "scale": {"type": "utc", "domain": [{"year": 2024, "month": 4, "date": 24, "utc": true}, {"year": 2024, "month": 4, "date": 27, "utc": true}]},
          "axis": {"orient": "bottom", "title": null, "tickSize": -3, "labels": false,
            "values": [
              {"year": 2024, "month": 4, "date": 24, "hours": 2, "utc": true},
              {"year": 2024, "month": 4, "date": 24, "hours": 4, "utc": true},
              {"year": 2024, "month": 4, "date": 24, "hours": 8, "utc": true},
              {"year": 2024, "month": 4, "date": 24, "hours": 10, "utc": true},
              {"year": 2024, "month": 4, "date": 24, "hours": 14, "utc": true},
              {"year": 2024, "month": 4, "date": 24, "hours": 16, "utc": true},
              {"year": 2024, "month": 4, "date": 24, "hours": 20, "utc": true},
              {"year": 2024, "month": 4, "date": 24, "hours": 22, "utc": true},
              {"year": 2024, "month": 4, "date": 25, "hours": 2, "utc": true},
              {"year": 2024, "month": 4, "date": 25, "hours": 4, "utc": true},
              {"year": 2024, "month": 4, "date": 25, "hours": 8, "utc": true},
              {"year": 2024, "month": 4, "date": 25, "hours": 10, "utc": true},
              {"year": 2024, "month": 4, "date": 25, "hours": 14, "utc": true},
              {"year": 2024, "month": 4, "date": 25, "hours": 16, "utc": true},
              {"year": 2024, "month": 4, "date": 25, "hours": 20, "utc": true},
              {"year": 2024, "month": 4, "date": 25, "hours": 22, "utc": true},
              {"year": 2024, "month": 4, "date": 26, "hours": 2, "utc": true},
              {"year": 2024, "month": 4, "date": 26, "hours": 4, "utc": true},
              {"year": 2024, "month": 4, "date": 26, "hours": 8, "utc": true},
              {"year": 2024, "month": 4, "date": 26, "hours": 10, "utc": true},
              {"year": 2024, "month": 4, "date": 26, "hours": 14, "utc": true},
              {"year": 2024, "month": 4, "date": 26, "hours": 16, "utc": true},
              {"year": 2024, "month": 4, "date": 26, "hours": 20, "utc": true},
              {"year": 2024, "month": 4, "date": 26, "hours": 22, "utc": true}
            ]}},
        "y": {"field": "v", "type": "quantitative", "scale": {"domain": [34, 52], "nice": false, "zero": false}, "axis": null},
        "detail": {"field": "g", "type": "nominal"},
        "color": {"field": "s", "type": "nominal",
          "scale": {"domain": ["C7563 Analysis", "C7563"], "range": ["#ff0000", "#1c8bff"]},
          "legend": {"orient": "none", "legendX": 543, "legendY": 2, "title": null, "symbolType": "M-2,0H2", "symbolSize": 196, "symbolStrokeWidth": 1, "labelAlign": "right", "labelOffset": -29, "rowPadding": -1}}
      }
    },
    {
      "data": {"name": "obs"},
      "transform": [{"filter": "datum.s == 'C7563'"}],
      "mark": {"type": "line", "strokeWidth": 1},
      "encoding": {
        "x": {"field": "t", "type": "temporal",
          "scale": {"type": "utc", "domain": [{"year": 2024, "month": 4, "date": 24, "utc": true}, {"year": 2024, "month": 4, "date": 27, "utc": true}]},
          "axis": {"orient": "top", "title": null, "tickSize": -3, "labels": false,
            "values": [
              {"year": 2024, "month": 4, "date": 24, "hours": 2, "utc": true},
              {"year": 2024, "month": 4, "date": 24, "hours": 4, "utc": true},
              {"year": 2024, "month": 4, "date": 24, "hours": 8, "utc": true},
              {"year": 2024, "month": 4, "date": 24, "hours": 10, "utc": true},
              {"year": 2024, "month": 4, "date": 24, "hours": 14, "utc": true},
              {"year": 2024, "month": 4, "date": 24, "hours": 16, "utc": true},
              {"year": 2024, "month": 4, "date": 24, "hours": 20, "utc": true},
              {"year": 2024, "month": 4, "date": 24, "hours": 22, "utc": true},
              {"year": 2024, "month": 4, "date": 25, "hours": 2, "utc": true},
              {"year": 2024, "month": 4, "date": 25, "hours": 4, "utc": true},
              {"year": 2024, "month": 4, "date": 25, "hours": 8, "utc": true},
              {"year": 2024, "month": 4, "date": 25, "hours": 10, "utc": true},
              {"year": 2024, "month": 4, "date": 25, "hours": 14, "utc": true},
              {"year": 2024, "month": 4, "date": 25, "hours": 16, "utc": true},
              {"year": 2024, "month": 4, "date": 25, "hours": 20, "utc": true},
              {"year": 2024, "month": 4, "date": 25, "hours": 22, "utc": true},
              {"year": 2024, "month": 4, "date": 26, "hours": 2, "utc": true},
              {"year": 2024, "month": 4, "date": 26, "hours": 4, "utc": true},
              {"year": 2024, "month": 4, "date": 26, "hours": 8, "utc": true},
              {"year": 2024, "month": 4, "date": 26, "hours": 10, "utc": true},
              {"year": 2024, "month": 4, "date": 26, "hours": 14, "utc": true},
              {"year": 2024, "month": 4, "date": 26, "hours": 16, "utc": true},
              {"year": 2024, "month": 4, "date": 26, "hours": 20, "utc": true},
              {"year": 2024, "month": 4, "date": 26, "hours": 22, "utc": true}
            ]}},
        "y": {"field": "v", "type": "quantitative", "scale": {"domain": [34, 52], "nice": false, "zero": false}, "axis": null},
        "color": {"field": "s", "type": "nominal",
          "scale": {"domain": ["C7563 Analysis", "C7563"], "range": ["#ff0000", "#1c8bff"]},
          "legend": {"orient": "none", "legendX": 543, "legendY": 2, "title": null, "symbolType": "M-2,0H2", "symbolSize": 196, "symbolStrokeWidth": 1, "labelAlign": "right", "labelOffset": -29, "rowPadding": -1}}
      }
    }
  ],
  "resolve": {"axis": {"x": "independent", "y": "independent"}}
}
